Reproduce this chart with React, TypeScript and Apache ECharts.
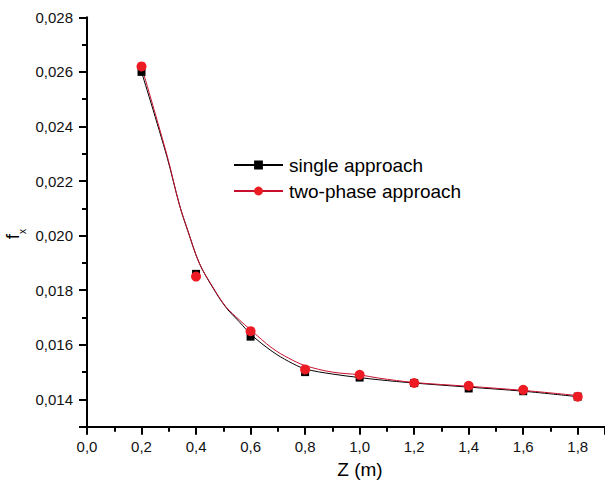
import React, { useEffect, useRef } from "react";
import * as echarts from "echarts";

const zValues = [0.2, 0.4, 0.6, 0.8, 1.0, 1.2, 1.4, 1.6, 1.8];
const singleValues = [0.026, 0.0186, 0.0163, 0.015, 0.0148, 0.0146, 0.0144, 0.0143, 0.0141];
const twoPhaseValues = [0.0262, 0.0185, 0.0165, 0.0151, 0.0149, 0.0146, 0.0145, 0.01435, 0.0141];

// fitted curves
const singleFitZ = [0.2, 0.293, 0.339, 0.369, 0.412, 0.46, 0.509, 0.558, 0.606, 0.679, 0.74, 0.8, 0.9, 1.0, 1.07, 1.2, 1.4, 1.6, 1.8];
const singleFit = [0.026, 0.0229, 0.02113, 0.0202, 0.01899, 0.01812, 0.01738, 0.01685, 0.01634, 0.01576, 0.01539, 0.01512, 0.01493, 0.0148, 0.01472, 0.0146, 0.01445, 0.0143, 0.0141];
const twoPhaseFitZ = [0.2, 0.293, 0.339, 0.369, 0.412, 0.46, 0.509, 0.558, 0.6, 0.679, 0.74, 0.8, 0.9, 1.0, 1.07, 1.2, 1.4, 1.6, 1.8];
const twoPhaseFit = [0.0262, 0.02296, 0.02113, 0.02021, 0.01899, 0.01814, 0.0174, 0.01692, 0.01655, 0.01588, 0.01551, 0.01524, 0.015, 0.0149, 0.01478, 0.01462, 0.01448, 0.01433, 0.01414];

const seriesNames = ["single approach", "two-phase approach"];
const xName = "Z (m)";

const FONT = "'Liberation Sans', Arial, sans-serif";

export default function App() {
  const ref = useRef<HTMLDivElement>(null);
  useEffect(() => {
    const chart = echarts.init(ref.current!, null, { renderer: "svg" });
    const pair = (xs: number[], ys: number[]) => xs.map((x, i) => [x, ys[i]]);
    chart.setOption({
      animation: false,
      backgroundColor: "#ffffff",
      grid: { left: 87, top: 17.3, width: 521.4, height: 409.4, containLabel: false },
      legend: {
        data: seriesNames,
        orient: "vertical",
        left: 233,
        top: 155.5,
        padding: 0,
        itemWidth: 49,
        itemHeight: 11,
        itemGap: 7,
        textStyle: { fontFamily: FONT, fontSize: 19, color: "#000", lineHeight: 19, padding: [0, 0, 0, 1] },
      },
      xAxis: {
        type: "value",
        min: 0,
        max: 1.9,
        minInterval: 0.2,
        maxInterval: 0.2,
        splitNumber: 9,
        name: xName,
        nameLocation: "middle",
        nameGap: 33,
        nameTextStyle: { fontFamily: FONT, fontSize: 19, color: "#000", padding: [0, 0, 0, 28] },
        axisLine: { onZero: false, lineStyle: { color: "#000", width: 2 } },
        axisTick: { show: true, length: 8, lineStyle: { color: "#000", width: 2 } },
        minorTick: { show: true, splitNumber: 2, length: 5, lineStyle: { color: "#000", width: 2 } },
        splitLine: { show: false },
        axisLabel: {
          fontFamily: FONT,
          fontSize: 15,
          color: "#111",
          margin: 12,
          showMaxLabel: false,
          formatter: (v: number) => v.toFixed(1).replace(".", ","),
        },
      },
      yAxis: {
        type: "value",
        min: 0.013,
        max: 0.028,
        minInterval: 0.002,
        maxInterval: 0.002,
        splitNumber: 7,
        axisLine: { onZero: false, lineStyle: { color: "#000", width: 2 } },
        axisTick: { show: true, length: 8, lineStyle: { color: "#000", width: 2 } },
        minorTick: { show: true, splitNumber: 2, length: 5, lineStyle: { color: "#000", width: 2 } },
        splitLine: { show: false },
        axisLabel: {
          fontFamily: FONT,
          fontSize: 15,
          color: "#111",
          margin: 14,
          showMinLabel: false,
          formatter: (v: number) => v.toFixed(3).replace(".", ","),
        },
      },
      graphic: [
        {
          type: "group",
          x: 12,
          y: 236.5,
          rotation: Math.PI / 2,
          children: [
            {
              type: "text",
              x: 0,
              y: 0,
              style: { text: "f", fontFamily: FONT, fontSize: 19, fill: "#000", align: "center", verticalAlign: "middle" },
            },
            {
              type: "text",
              x: 5,
              y: 10,
              style: { text: "x", fontFamily: FONT, fontSize: 10, fill: "#000", align: "center", verticalAlign: "middle" },
            },
          ],
        },
      ],
      series: [
        {
          name: seriesNames[0],
          type: "line",
          data: pair(singleFitZ, singleFit),
          smooth: 0.35,
          symbol: "rect",
          showSymbol: false,
          color: "#000",
          lineStyle: { color: "#000", width: 1 },
          itemStyle: { color: "#000" },
          z: 2,
        },
        {
          name: seriesNames[1],
          type: "line",
          data: pair(twoPhaseFitZ, twoPhaseFit),
          smooth: 0.35,
          symbol: "circle",
          showSymbol: false,
          color: "#d4142c",
          lineStyle: { color: "#c8102e", width: 1 },
          itemStyle: { color: "#ed1c24" },
          z: 3,
        },
        {
          name: seriesNames[0],
          type: "scatter",
          data: pair(zValues, singleValues),
          symbol: "rect",
          symbolSize: 8,
          itemStyle: { color: "#000", opacity: 1 },
          z: 4,
        },
        {
          name: seriesNames[1],
          type: "scatter",
          data: pair(zValues, twoPhaseValues),
          symbol: "circle",
          symbolSize: 10,
          itemStyle: { color: "#ed1c24", opacity: 1 },
          z: 5,
        },
      ],
    });
    return () => chart.dispose();
  }, []);
  return <div ref={ref} style={{ position: "absolute", left: 0, top: 0, width: 605, height: 493 }} />;
}
